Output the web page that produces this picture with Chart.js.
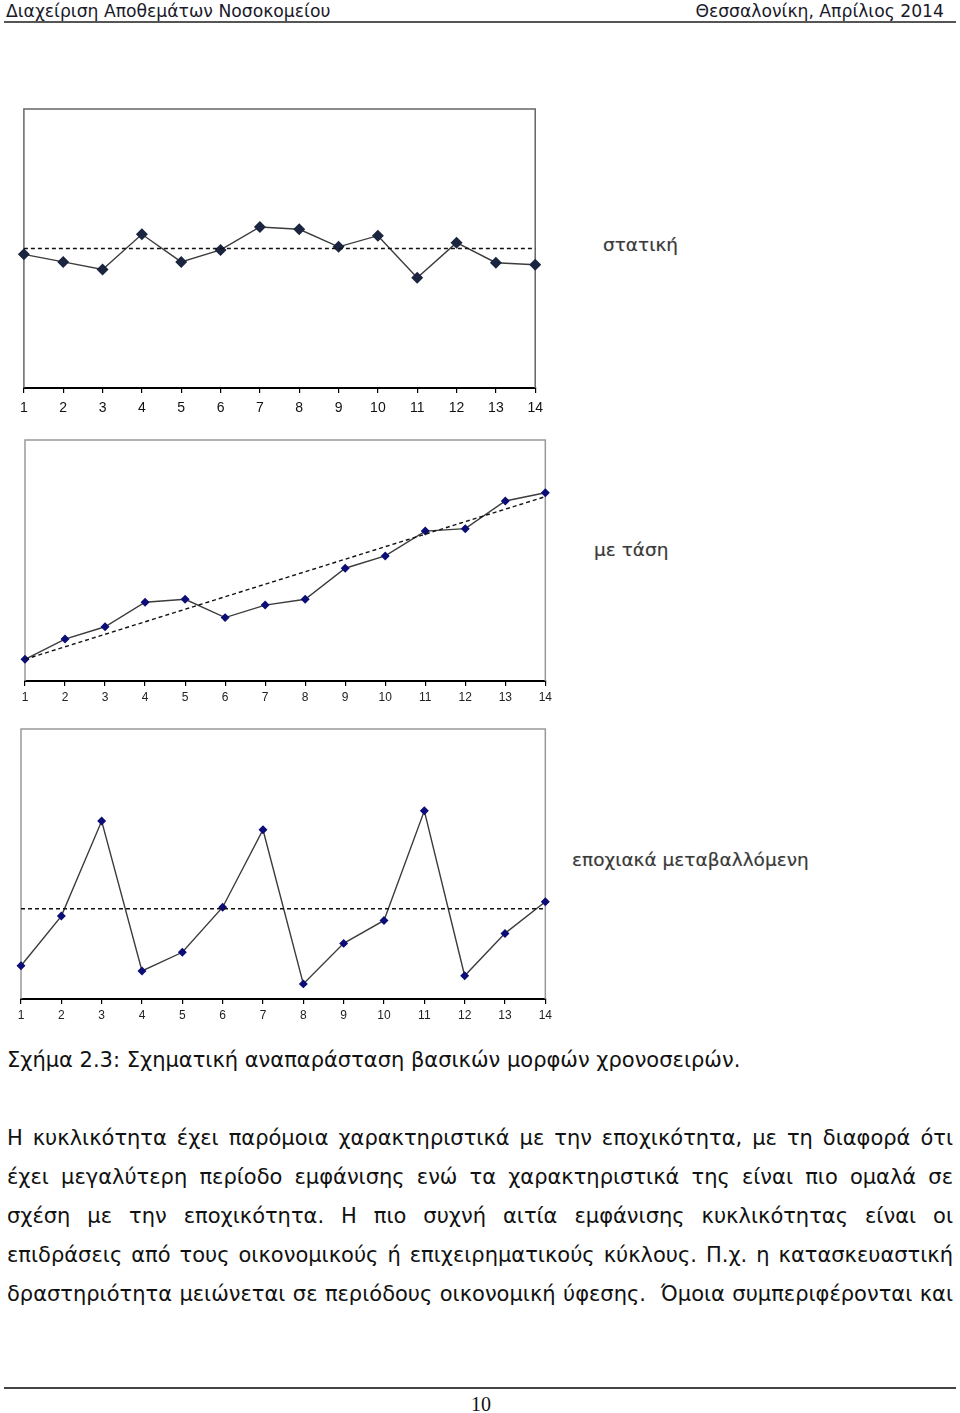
<!DOCTYPE html>
<html lang="el">
<head>
<meta charset="utf-8">
<title>Σχήμα 2.3</title>
<script src="https://cdn.jsdelivr.net/npm/chart.js@4.4.1/dist/chart.umd.min.js"></script>
<style>
  html, body { margin: 0; padding: 0; background: #fff; }
  #page { position: relative; width: 960px; height: 1413px; overflow: hidden; font-family: "DejaVu Sans", Verdana, sans-serif; color: #111; }
  .abs { position: absolute; }
  .head { top: 1px; font-size: 17.2px; line-height: 20px; color: #1a1a2a; }
  .rule { left: 4px; width: 952px; height: 2px; background: #555; }
  .tag { font-size: 18.5px; color: #3a3a3a; line-height: 22px; text-shadow: 0 0 1px #bbb; }
  canvas { position: absolute; }
  .txt { left: 7px; width: 946px; font-size: 21px; line-height: 39px; }
  .txt div { text-align: justify; text-align-last: justify; white-space: nowrap; }
</style>
</head>
<body>
<div id="page">
  <div class="abs head" style="left:6px">Διαχείριση Αποθεμάτων Νοσοκομείου</div>
  <div class="abs head" style="right:16px">Θεσσαλονίκη, Απρίλιος 2014</div>
  <div class="abs rule" style="top:21px"></div>

  <canvas id="staticChart" width="537" height="319" style="left:13px;top:99px"></canvas>
  <canvas id="trendChart" width="541" height="281" style="left:15px;top:430px"></canvas>
  <canvas id="seasonalChart" width="545" height="310" style="left:11px;top:719px"></canvas>

  <div class="abs tag" style="left:603px;top:234px">στατική</div>
  <div class="abs tag" style="left:594px;top:539px">με τάση</div>
  <div class="abs tag" style="left:572px;top:849px">εποχιακά μεταβαλλόμενη</div>

  <div class="abs txt" style="top:1041px"><div style="text-align:left;text-align-last:left">Σχήμα 2.3: Σχηματική αναπαράσταση βασικών μορφών χρονοσειρών.</div></div>

  <div class="abs txt" style="top:1119px">
    <div>Η κυκλικότητα έχει παρόμοια χαρακτηριστικά με την εποχικότητα, με τη διαφορά ότι</div>
    <div>έχει μεγαλύτερη περίοδο εμφάνισης ενώ τα χαρακτηριστικά της είναι πιο ομαλά σε</div>
    <div>σχέση με την εποχικότητα. Η πιο συχνή αιτία εμφάνισης κυκλικότητας είναι οι</div>
    <div>επιδράσεις από τους οικονομικούς ή επιχειρηματικούς κύκλους. Π.χ. η κατασκευαστική</div>
    <div>δραστηριότητα μειώνεται σε περιόδους οικονομική ύφεσης.&nbsp; Όμοια συμπεριφέρονται και</div>
  </div>

  <div class="abs rule" style="top:1387px;background:#444"></div>
  <div class="abs" style="left:0;width:962px;top:1393px;text-align:center;font-family:'Liberation Serif',serif;font-size:20px;line-height:22px">10</div>
</div>

<script>
// Tick labels shared by the three panels
const periods = ["1", "2", "3", "4", "5", "6", "7", "8", "9", "10", "11", "12", "13", "14"];

// Panel 1: stationary series and its mean level
const staticSeries = [47.9, 45.2, 42.5, 55.1, 45.2, 49.5, 57.7, 56.9, 50.6, 54.6, 39.5, 52.1, 44.9, 44.2];
const staticLevel = 50;

// Panel 2: series with trend, trend line end values
const trendSeries = [9.0, 17.4, 22.5, 32.7, 33.9, 26.3, 31.5, 33.9, 46.8, 51.9, 62.2, 63.2, 74.7, 78.1];
const trendEnds = [9.0, 76.5];

// Panel 3: seasonal series and its mean level
const seasonalSeries = [12.3, 30.7, 65.9, 10.4, 17.3, 34.0, 62.7, 5.6, 20.6, 29.1, 69.7, 8.6, 24.3, 36.0];
const seasonalLevel = 33.4;

// Grey frame round the plot area
const framePlugin = {
  id: "frame",
  beforeDatasetsDraw(chart, args, opts) {
    const a = chart.chartArea;
    const ctx = chart.ctx;
    ctx.save();
    ctx.strokeStyle = opts.color || "#8a8a8a";
    ctx.lineWidth = opts.width || 1.5;
    ctx.beginPath();
    ctx.moveTo(a.left, a.bottom);
    ctx.lineTo(a.left, a.top);
    ctx.lineTo(a.right, a.top);
    ctx.lineTo(a.right, a.bottom);
    ctx.stroke();
    ctx.restore();
  }
};

function levelLine(start, end) {
  return {
    data: [{ x: periods[0], y: start }, { x: periods[periods.length - 1], y: end }],
    borderColor: "#111",
    borderWidth: 1.4,
    borderDash: [4, 3],
    pointRadius: 0,
    tension: 0
  };
}

function makeChart(id, series, guide, opts) {
  return new Chart(document.getElementById(id), {
    type: "line",
    data: {
      labels: periods,
      datasets: [
        guide,
        {
          data: series,
          borderColor: "#3c3c3c",
          borderWidth: 1.4,
          pointStyle: "rectRot",
          pointRadius: opts.pointRadius,
          pointBackgroundColor: opts.pointColor,
          pointBorderColor: opts.pointColor,
          tension: 0
        }
      ]
    },
    options: {
      responsive: false,
      animation: false,
      events: [],
      layout: { padding: { left: 10, right: 10, top: 10, bottom: 0 } },
      plugins: {
        legend: { display: false },
        tooltip: { enabled: false },
        frame: { color: opts.frameColor }
      },
      scales: {
        x: {
          type: "category",
          offset: false,
          afterFit: (axis) => { axis.height = 30; },
          border: { display: true, color: "#000", width: 2 },
          grid: { drawOnChartArea: false, drawTicks: true, tickLength: 5, color: "#000", lineWidth: 1.2 },
          ticks: {
            color: opts.labelColor,
            padding: opts.labelPad,
            maxRotation: 0,
            autoSkip: false,
            font: { family: "Liberation Sans, Arial, sans-serif", size: opts.labelSize }
          }
        },
        y: { display: false, min: 0, max: 100 }
      }
    },
    plugins: [framePlugin]
  });
}

makeChart("staticChart", staticSeries, levelLine(staticLevel, staticLevel),
  { pointRadius: 5, pointColor: "#1b2540", frameColor: "#666", labelPad: 7, labelSize: 14, labelColor: "#111" });
makeChart("trendChart", trendSeries, levelLine(trendEnds[0], trendEnds[1]),
  { pointRadius: 3.5, pointColor: "#0d0d78", frameColor: "#999", labelPad: 4, labelSize: 12, labelColor: "#222" });
makeChart("seasonalChart", seasonalSeries, levelLine(seasonalLevel, seasonalLevel),
  { pointRadius: 3.5, pointColor: "#0d0d78", frameColor: "#999", labelPad: 4, labelSize: 12, labelColor: "#222" });
</script>
</body>
</html>
